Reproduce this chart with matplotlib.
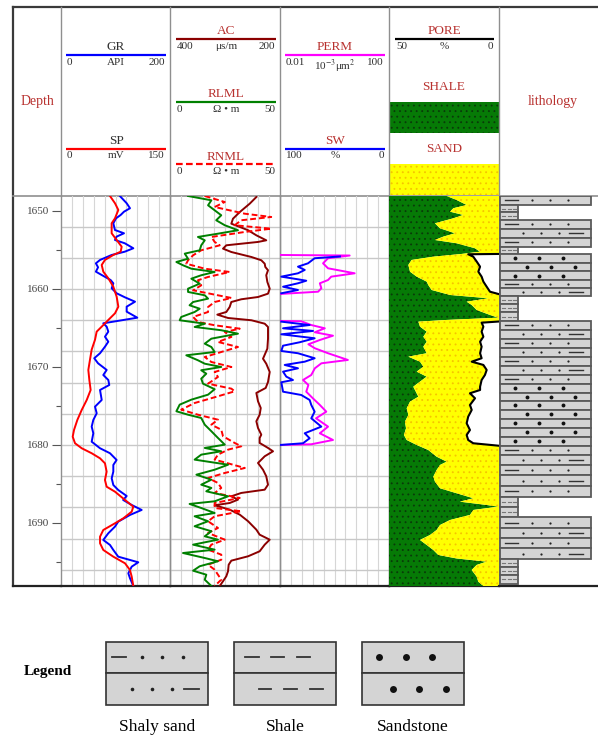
import numpy as np
import matplotlib.pyplot as plt
from matplotlib.patches import Rectangle

plt.rcParams['font.family'] = ['Liberation Serif', 'DejaVu Serif']
plt.rcParams['mathtext.fontset'] = 'stix'
plt.rcParams['hatch.linewidth'] = 0.6

W, H = 598, 740
TOP_DEPTH, BASE_DEPTH = 1648.08, 1698.08
nan = np.nan

# ---- track 1: GR (API) and SP (mV) ----
gr_depth = [1648.08, 1649.01, 1649.65, 1650.09, 1650.51, 1650.94, 1651.58, 1652.44, 1652.86, 1653.29,
            1653.72, 1654.14, 1654.78, 1655.22, 1655.64, 1656.28, 1656.71, 1657.22, 1657.78, 1658.21,
            1658.85, 1659.27, 1659.91, 1660.55, 1661.06, 1661.63, 1662.27, 1662.91, 1663.68, 1664.19,
            1664.40, 1664.83, 1665.47, 1666.12, 1666.76, 1667.40, 1668.24, 1668.88, 1669.53, 1670.38,
            1671.03, 1671.67, 1672.31, 1672.95, 1674.23, 1675.09, 1675.94, 1676.79, 1677.65, 1678.50,
            1679.58, 1680.42, 1681.06, 1681.92, 1682.56, 1683.42, 1684.27, 1685.13, 1685.77, 1686.54,
            1687.05, 1687.69, 1688.33, 1688.97, 1689.83, 1690.47, 1691.32, 1692.18, 1692.82, 1693.46,
            1694.32, 1695.04, 1695.60, 1696.45, 1697.09, 1698.08]
gr_api = [108, 120.5, 126.6, 115.6, 109.5, 101, 96, 99, 115.6, 102,
          99, 117, 132.7, 117, 93, 71.6, 64, 68, 64, 74.7,
          91, 96, 93, 102, 117, 135.8, 120.5, 120.5, 140, 96,
          77.6, 83.8, 86.8, 80.7, 86.8, 80.7, 71.6, 61, 68, 83.8,
          77.6, 86.8, 88.6, 71.6, 74.7, 62.4, 65.5, 59.3, 56.3, 59.3,
          56.3, 71.6, 89.9, 102, 96, 96, 93, 96, 105, 120.5,
          114, 129.7, 148, 126.6, 105, 99, 86.8, 77.6, 89.9, 96,
          105, 141.8, 129.7, 123.5, 126.6, 132.7]

sp_depth = [1648.08, 1649.01, 1649.87, 1650.94, 1651.58, 1652.86, 1653.72, 1654.58, 1655.22, 1655.64,
            1656.28, 1656.92, 1657.78, 1658.63, 1659.71, 1660.99, 1662.27, 1663.12, 1663.76, 1664.83,
            1665.47, 1666.51, 1667.78, 1669.06, 1670.38, 1671.67, 1672.95, 1674.23, 1675.51, 1676.79,
            1678.08, 1678.94, 1679.78, 1680.42, 1681.06, 1681.71, 1682.35, 1683.42, 1684.49, 1685.35,
            1685.99, 1687.05, 1687.91, 1688.55, 1689.40, 1690.04, 1690.90, 1691.76, 1692.60, 1693.46,
            1694.32, 1695.17, 1696.03, 1696.88, 1698.08]
sp_mv = [67.4, 74.3, 78.9, 74.3, 69.7, 69.7, 76.6, 83.5, 82.1, 72,
         60.5, 56, 58.2, 65.1, 72, 76.6, 78.9, 74.3, 67.4, 56,
         49.1, 46.8, 42.2, 39.9, 37.6, 39, 40.8, 35.4, 28.5, 22.5,
         17.9, 16.1, 19.3, 28.5, 42.2, 53.7, 60.5, 62.8, 60.5, 62.8,
         74.3, 88.1, 99.5, 97.3, 85.8, 74.3, 58.2, 53.7, 53.7, 58.2,
         72, 88.1, 94.9, 97.3, 99.5]

# ---- track 2: AC (us/m), RLML and RNML (ohm.m) ----
ac_depth = [1648.21, 1649.06, 1650.13, 1650.99, 1651.63, 1652.05, 1652.47, 1653.12, 1653.76, 1653.97,
            1654.40, 1654.83, 1655.26, 1655.90, 1656.32, 1656.76, 1657.18, 1657.60, 1658.24, 1659.10,
            1659.96, 1660.60, 1661.03, 1661.32, 1661.67, 1662.31, 1662.95, 1663.29, 1663.72, 1664.01,
            1664.45, 1664.87, 1666.37, 1667.65, 1668.94, 1669.58, 1670.64, 1671.92, 1672.69, 1673.33,
            1674.40, 1675.26, 1676.12, 1676.96, 1677.82, 1678.68, 1679.10, 1679.74, 1680.38, 1680.81,
            1681.45, 1682.31, 1683.17, 1684.01, 1685.09, 1685.73, 1686.15, 1686.58, 1687.01, 1687.44,
            1687.73, 1688.29, 1688.94, 1689.78, 1690.86, 1691.50, 1692.14, 1692.78, 1693.63, 1694.27,
            1694.83, 1695.35, 1696.19, 1696.83, 1697.47, 1698.08]
ac_us = [243, 255, 273, 285.5, 288.5, 273, 258, 243, 225, 240,
         297.6, 303.6, 288.5, 252, 234, 227.8, 226.7, 221.8, 225, 223,
         218.7, 221.8, 240, 270.4, 288.5, 291.5, 297.6, 314, 294.5, 252,
         227.8, 221.8, 221.8, 223, 230.9, 225, 218.7, 221.8, 226, 243,
         240, 235, 237, 243, 240, 234, 237, 237, 221.8, 212.7,
         227.8, 240, 230.9, 225, 221.8, 227.8, 270.4, 288.5, 276.4, 291.5,
         318.8, 291.5, 273, 258, 243, 237, 218.7, 227.8, 237, 258,
         288.5, 293.3, 294.5, 297.6, 303.6, 309.6]

rlml_depth = [1648.08, 1648.63, 1649.27, 1649.91, 1650.55, 1651.19, 1651.83, 1652.47, 1652.91, 1653.33,
              1653.76, 1654.40, 1655.04, 1655.47, 1656.12, 1656.54, 1656.96, 1657.40, 1657.82, 1658.24,
              1658.68, 1659.32, 1659.96, 1660.38, 1660.81, 1661.24, 1661.67, 1662.09, 1662.53, 1662.95,
              1663.59, 1664.01, 1664.45, 1664.87, 1665.29, 1665.73, 1666.37, 1667.01, 1667.44, 1668.08,
              1668.50, 1669.14, 1669.58, 1670.00, 1670.42, 1670.86, 1671.50, 1672.14, 1672.85, 1673.55,
              1674.19, 1674.83, 1675.68, 1676.12, 1676.54, 1677.40, 1678.24, 1679.10, 1679.96, 1680.38,
              1680.81, 1681.24, 1681.88, 1682.53, 1683.17, 1683.81, 1684.45, 1685.09, 1685.51, 1685.94,
              1686.58, 1687.22, 1687.56, 1688.08, 1688.72, 1689.14, 1689.78, 1690.42, 1691.06, 1691.71,
              1692.14, 1692.78, 1693.42, 1693.85, 1694.49, 1694.91, 1695.55, 1696.12, 1696.63, 1697.27,
              1698.08]
rlml_ohm = [8.2, 18.8, 17.3, 20.3, 23.3, 21, 24.9, 30.9, 21.8, 12.7,
            15.8, 14.2, 13.5, 6.7, 8.2, 2.9, 5.9, 9.7, 20.3, 14.2,
            9.7, 13.5, 8.2, 8.2, 15.8, 17.3, 10.5, 8.9, 13.5, 11.2,
            5.1, 4.4, 15.8, 11.2, 23.3, 30.9, 18.8, 15.8, 18.8, 20.3,
            7.4, 12.7, 15.8, 23.3, 14.2, 16.5, 14.2, 15, 20.3, 17.3,
            9.7, 4.4, 2.9, 8.2, 14.2, 15.8, 18.8, 21.8, 24.9, 15.8,
            23.3, 14.2, 11.2, 26.4, 20.3, 12, 18.8, 14.2, 18.8, 16.5,
            26.4, 20.3, 8.9, 14.2, 20.3, 11.2, 17.3, 11.2, 18.8, 15.8,
            21.8, 10.5, 20.3, 5.9, 15.8, 21.8, 13.5, 10.5, 16.5, 15.8,
            18.8]

rnml_depth = [1648.08, 1648.85, 1649.49, 1650.35, 1650.77, 1651.19, 1651.83, 1652.27, 1652.69, 1653.33,
              1653.97, 1654.40, 1655.04, 1655.68, 1656.32, 1656.76, 1657.40, 1657.82, 1658.46, 1658.88,
              1659.53, 1660.17, 1660.81, 1661.15, 1661.67, 1662.31, 1662.95, 1663.59, 1664.23, 1664.65,
              1665.09, 1665.51, 1666.15, 1666.79, 1667.44, 1668.08, 1668.72, 1669.36, 1670.00, 1670.64,
              1671.28, 1672.14, 1672.78, 1673.12, 1673.76, 1674.62, 1675.47, 1676.12, 1676.76, 1677.40,
              1678.04, 1678.88, 1679.74, 1680.17, 1680.60, 1681.24, 1681.88, 1682.95, 1683.59, 1684.23,
              1684.87, 1685.51, 1686.15, 1686.79, 1687.44, 1688.08, 1688.50, 1689.14, 1689.78, 1690.64,
              1691.28, 1692.14, 1692.78, 1693.42, 1694.06, 1694.71, 1695.35, 1695.99, 1696.63, 1697.27,
              1698.08]
rnml_ohm = [15.8, 24.9, 20.3, 34, 46, 32.4, 29.4, 46, 34, 18.8,
            20.3, 22.6, 14.2, 10.5, 8.2, 7.4, 15.8, 27.1, 17.3, 12.7,
            14.2, 10.5, 21.8, 27.9, 20.3, 17.3, 17.3, 10.5, 12.7, 20.3,
            31.7, 24.9, 27.9, 21.8, 30.9, 23.3, 15.8, 18.8, 27.9, 20.3,
            21.8, 17.3, 27.9, 29.4, 21.8, 11.2, 5.1, 12.7, 21.8, 18.8,
            23.3, 24.1, 29.4, 32.4, 26.4, 21.8, 20.3, 34, 24.9, 17.3,
            21.8, 23.3, 20.3, 31.7, 20.3, 20.3, 32.4, 20.3, 17.3, 21.8,
            17.3, 24.9, 18.8, 17.3, 23.3, 23.3, 17.3, 20.3, 21.8, 23.3,
            20.3]

# ---- track 3: PERM (10^-3 um^2) and SW (%) ----
perm_depth = [1655.64, 1655.71, 1656.06, 1656.71, 1657.35, 1657.99, 1658.42, 1658.85, 1659.27, 1659.91,
              1660.35, 1660.64, nan,
              1664.10, 1664.14, 1664.62, 1665.04, 1665.55, 1665.99, 1666.54, 1667.09, 1667.60, 1668.24,
              1669.10, 1669.53, 1670.17, 1671.03, 1671.67, 1672.31, 1673.17, 1674.01, 1674.87, 1675.73,
              1676.58, 1677.65, 1678.50, 1679.36, 1679.91, 1680.00]
perm_md = [0.01, 3.6, 0.58, 0.38, 0.58, 5.5, 0.76, 0.58, 0.29, 0.33,
           0.25, 0.01, nan,
           0.01, 0.06, 0.14, 0.44, 0.19, 0.88, 0.29, 0.11, 0.19, 0.58,
           3.1, 0.33, 0.19, 0.14, 0.07, 0.11, 0.092, 0.16, 0.29, 0.5,
           0.21, 0.58, 0.29, 0.88, 0.14, 0.01]

sw_depth = [1655.83, 1656.06, 1656.71, 1657.14, 1657.56, 1657.99, 1658.42, 1658.76, 1658.94, 1659.27,
            1659.71, 1660.13, 1660.55, nan,
            1664.19, 1664.62, 1665.04, 1665.38, 1665.81, 1666.32, 1666.83, 1667.27, 1667.95, 1668.24,
            1668.88, 1669.32, 1669.74, 1670.17, 1670.60, 1671.24, 1671.67, 1671.96, 1673.17, 1673.59,
            1674.23, 1674.87, 1675.73, 1676.58, 1677.65, 1678.50, 1679.14, 1679.78, 1680.00]
sw_pct = [45, 68.2, 74.3, 83.5, 77.3, 83.5, 98.8, 83.5, 75.9, 83.5,
          97.2, 83.5, 98.8, nan,
          98.8, 72.8, 97.2, 69.7, 98.8, 68.2, 81.9, 97.2, 98.8, 83.5,
          68.2, 77.3, 95.7, 83.5, 97.2, 94.2, 88.1, 98.8, 97.2, 80.5,
          72.8, 71.3, 68.2, 71.3, 62.1, 77.3, 72.8, 78.9, 100]

# ---- track 4: shale volume (%) and PORE (%) ----
vsh_depth = [1648.08, 1648.59, 1649.23, 1649.65, 1650.09, 1650.51, 1650.94, 1651.58, 1652.22, 1652.86,
             1653.29, 1653.72, 1654.14, 1654.78, 1655.22, 1655.51, 1655.86, 1656.28, 1656.92, 1657.78,
             1658.42, 1659.06, 1659.49, 1660.13, 1660.77, 1661.19, 1661.63, 1662.05, 1662.69, 1663.33,
             1663.68, 1663.97, 1664.19, 1664.83, 1665.47, 1666.12, 1666.76, 1667.40, 1668.24, 1668.68,
             1669.32, 1669.96, 1670.60, 1671.24, 1671.88, 1672.53, 1672.95, 1673.81, 1674.45, 1675.29,
             1676.15, 1677.01, 1677.86, 1678.72, 1679.36, 1680.00, 1680.64, 1681.50, 1682.14, 1682.56,
             1683.21, 1684.06, 1684.71, 1685.55, 1686.19, 1686.83, 1687.27, 1687.69, 1687.91, 1688.33,
             1688.97, 1689.62, 1690.26, 1690.90, 1691.54, 1692.18, 1692.82, 1693.46, 1694.10, 1694.55,
             1694.96, 1695.38, 1696.03, 1696.88, 1697.53, 1698.08]
vsh_pct = [52.5, 61.5, 70.6, 58.5, 55.5, 67.5, 58.5, 41.8, 46.4, 60,
           49.4, 41.8, 61.5, 78.2, 82.7, 66, 40.3, 20.6, 17.6, 19.1,
           25.2, 34.3, 35.7, 38.8, 55.5, 90.3, 70.6, 75.2, 79.7, 91.8,
           99.4, 52.5, 26.7, 28.2, 34.3, 31.2, 34.3, 31.2, 34.3, 17.6,
           28.2, 31.2, 25.2, 34.3, 28.2, 22.1, 23.6, 26.7, 19.1, 16.1,
           17.6, 14.5, 15.5, 13.6, 16.1, 25.2, 35.7, 43.3, 52.5, 46.4,
           43.3, 40.3, 41.8, 46.4, 61.5, 76.7, 64.5, 88.8, 99.4, 76.7,
           73.6, 55.5, 46.4, 43.3, 37.3, 28.2, 34.3, 40.3, 44.8, 61.5,
           88.8, 79.7, 75.2, 79.7, 81.2, 85.7]

pore_depth = [1655.51, 1655.55, 1655.86, 1656.50, 1657.14, 1657.78, 1658.42, 1659.06, 1659.71, 1660.35,
              1660.64, nan,
              1664.17, 1664.32, 1664.83, 1665.47, 1666.12, 1666.76, 1667.40, 1668.24, 1668.88, 1669.32,
              1669.74, 1670.38, 1671.03, 1671.67, 1672.53, 1672.95, 1673.37, 1674.01, 1674.87, 1675.51,
              1676.37, 1677.22, 1678.08, 1678.72, 1679.36, 1679.78, 1680.09]
pore_pct = [0, 14, 11.7, 10.1, 8.6, 9.4, 7.9, 7.1, 5.6, 4.1,
            0.3, nan,
            0, 7.9, 7.1, 7.9, 7.1, 8.6, 7.9, 8.6, 7.9, 12.4,
            7.1, 5.6, 6.4, 7.9, 8.6, 8.6, 13.2, 10.9, 13.2, 12.4,
            14, 14.7, 13.2, 14.7, 14, 11.7, 0.3]

# ---- lithology column ----
litho_bounds = [1648.08, 1649.23, 1650.17, 1651.15, 1652.31, 1653.46, 1654.62, 1655.51, 1656.67, 1657.73,
                1658.85, 1659.87, 1660.90, 1661.96, 1662.99, 1664.10, 1665.26, 1666.41, 1667.56, 1668.72,
                1669.87, 1671.03, 1672.18, 1673.33, 1674.36, 1675.51, 1676.63, 1677.78, 1678.94, 1680.09,
                1681.28, 1682.60, 1683.85, 1685.26, 1686.63, 1687.91, 1689.29, 1690.60, 1691.96, 1693.24,
                1694.62, 1695.64, 1696.67, 1697.76]
litho_kind = (['shaly', 'shale', 'shale', 'shaly', 'shaly', 'shaly', 'shale',
               'sandstone', 'sandstone', 'sandstone', 'shaly', 'shaly', 'shale', 'shale', 'shale']
              + ['shaly'] * 7 + ['sandstone'] * 7 + ['shaly'] * 5 + ['shale'] * 2
              + ['shaly'] * 4 + ['shale'] * 3)

depth_major = [1650, 1660, 1670, 1680, 1690]
depth_minor = [1655, 1665, 1675, 1685, 1695]
grid_depths = list(range(1652, 1697, 4))

legend_kinds = ['shaly', 'shale', 'sandstone']
legend_names = ['Shaly sand', 'Shale', 'Sandstone']

LABEL_RED = '#b8312f'
INK = '#303030'
SEP = '#8f8f8f'
SHALE_GREEN = '#067a06'
SHALE_DOTS = '#0a3a0a'
SAND_YELLOW = '#ffff00'
SAND_DOTS = '#f5c400'
ROCK_GRAY = '#d4d4d4'


def frac(x0, y0, x1, y1):
    return [x0 / W, 1 - y1 / H, (x1 - x0) / W, (y1 - y0) / H]


def dotted(dot_color, make):
    # hatch colour is taken from rcParams when the artist is built
    with plt.rc_context({'hatch.color': dot_color}):
        return make()


def draw_pattern(ax, kind, row, x0, x1, yc, small=1.6, big=3.0, dash_lw=1.0, narrow=False):
    w = x1 - x0
    if kind == 'shaly':
        if row == 0:
            ax.plot([x0 + 0.06 * w, x0 + 0.2 * w], [yc, yc], color='#333333', lw=dash_lw)
            dots = [0.35, 0.55, 0.75]
        else:
            ax.plot([x0 + 0.76 * w, x0 + 0.91 * w], [yc, yc], color='#333333', lw=dash_lw)
            dots = [0.25, 0.45, 0.65]
        ax.plot([x0 + f * w for f in dots], [yc] * 3, 'o', ms=small, color='#222222', mew=0)
    elif kind == 'sandstone':
        dots = [0.17, 0.43, 0.69] if row == 0 else [0.3, 0.56, 0.82]
        ax.plot([x0 + f * w for f in dots], [yc] * 3, 'o', ms=big, color='#111111', mew=0)
    else:
        if narrow:
            segs = [(0.12, 0.3), (0.42, 0.6), (0.72, 0.9)]
            col, lw = '#777777', 0.8
        elif row == 0:
            segs = [(0.11, 0.245), (0.366, 0.49), (0.62, 0.745)]
            col, lw = '#333333', dash_lw
        else:
            segs = [(0.245, 0.366), (0.49, 0.615), (0.745, 0.87)]
            col, lw = '#333333', dash_lw
        for a, b in segs:
            ax.plot([x0 + a * w, x0 + b * w], [yc, yc], color=col, lw=lw)


fig = plt.figure(figsize=(W / 100, H / 100), dpi=100)

# drawing canvas in pixel units for the header, frame and legend
cv = fig.add_axes([0, 0, 1, 1], zorder=0)
cv.set_xlim(0, W)
cv.set_ylim(H, 0)
cv.axis('off')

cv.plot([13, W], [7, 7], color='#3a3a3a', lw=1.6)
cv.plot([13, 13], [7, 586], color='#3a3a3a', lw=1.6)
cv.plot([13, 61], [586, 586], color='#222222', lw=1.6)
cv.plot([13, W], [195.5, 195.5], color=SEP, lw=1.2)
for xb in [61, 170, 280, 389, 499]:
    cv.plot([xb, xb], [7, 195.5], color=SEP, lw=1.0)

cv.text(37, 102, 'Depth', ha='center', va='center', fontsize=10, color=LABEL_RED)
cv.text(553, 102, 'lithology', ha='center', va='center', fontsize=10, color=LABEL_RED)


def curve_header(x0, x1, y, color, name, lo, unit, hi, name_color=LABEL_RED, ls='-'):
    cv.plot([x0, x1], [y, y], color=color, lw=1.6, ls=ls, solid_capstyle='butt')
    xc = (x0 + x1) / 2
    cv.text(xc, y - 1.5, name, ha='center', va='bottom', fontsize=9.5, color=name_color)
    cv.text(x0 + 1, y + 3, lo, ha='left', va='top', fontsize=8, color=INK)
    cv.text(xc, y + 3, unit, ha='center', va='top', fontsize=8, color=INK)
    cv.text(x1 - 1, y + 3, hi, ha='right', va='top', fontsize=8, color=INK)


curve_header(66, 166, 55, '#0000ff', 'GR', '0', 'API', '200', name_color=INK)
curve_header(66, 166, 148.5, '#ff0000', 'SP', '0', 'mV', '150', name_color=INK)
curve_header(176, 276, 39, '#8b0000', 'AC', '400', 'μs/m', '200')
curve_header(176, 276, 101.5, '#008000', 'RLML', '0', 'Ω • m', '50')
curve_header(176, 276, 164, '#ff0000', 'RNML', '0', 'Ω • m', '50', ls=(0, (3, 1.5)))
curve_header(285, 385, 55, '#ff00ff', 'PERM', '0.01', '10$^{-3}$μm$^{2}$', '100')
curve_header(285, 385, 148.5, '#0000ff', 'SW', '100', '%', '0')
curve_header(395, 494, 39, 'black', 'PORE', '50', '%', '0')

cv.text(444, 87, 'SHALE', ha='center', va='center', fontsize=9.5, color=LABEL_RED)
cv.add_patch(dotted(SHALE_DOTS, lambda: Rectangle((389.5, 102), 109.5, 31, facecolor=SHALE_GREEN,
                                                  hatch='...', lw=0)))
cv.text(444, 149, 'SAND', ha='center', va='center', fontsize=9.5, color=LABEL_RED)
cv.add_patch(dotted(SAND_DOTS, lambda: Rectangle((389.5, 164), 109.5, 31, facecolor=SAND_YELLOW,
                                                 hatch='...', lw=0)))

# legend under the log
cv.text(48, 671, 'Legend', ha='center', va='center', fontsize=11, fontweight='bold', color='black')
for i, (kind, name) in enumerate(zip(legend_kinds, legend_names)):
    bx0 = 106 + i * 128
    bx1 = bx0 + 102
    for row, (ry0, ry1) in enumerate([(642, 672.5), (672.5, 705)]):
        cv.add_patch(Rectangle((bx0, ry0), bx1 - bx0, ry1 - ry0, facecolor=ROCK_GRAY,
                               edgecolor='#333333', lw=1.2))
        draw_pattern(cv, kind, row, bx0, bx1, (ry0 + ry1) / 2, small=2.6, big=5, dash_lw=1.3)
    cv.text((bx0 + bx1) / 2, 727, name, ha='center', va='center', fontsize=12.5, color='black')

# ---- log tracks ----
tracks = [(61, 170), (170, 280), (280, 389), (389, 499)]
axes = []
for i, (x0, x1) in enumerate(tracks):
    ax = fig.add_axes(frac(x0, 196, x1, 586), zorder=1, sharey=axes[0] if axes else None)
    ax.set_facecolor('none')
    ax.set_xlim(0, 10)
    ax.set_ylim(BASE_DEPTH, TOP_DEPTH)
    ax.set_xticks([])
    ax.spines['top'].set_visible(False)
    for s in ['left', 'right']:
        ax.spines[s].set_color(SEP)
        ax.spines[s].set_linewidth(1.0)
    ax.spines['bottom'].set_color('#222222')
    ax.spines['bottom'].set_linewidth(1.6)
    if i < 3:
        for k in range(1, 10):
            ax.axvline(k, color='#d6d6d6', lw=0.8, zorder=0)
        for d in grid_depths:
            ax.axhline(d, color='#c8c8c8', lw=1.0, zorder=0)
    if i > 0:
        ax.tick_params(axis='y', which='both', left=False, labelleft=False)
    axes.append(ax)

ax1, ax2, ax3, ax4 = axes
ax1.set_yticks(depth_major)
ax1.set_yticks(depth_minor, minor=True)
ax1.tick_params(axis='y', which='major', length=6.5, width=0.8, color='#555555', pad=2,
                labelsize=8, labelcolor='#444444')
ax1.tick_params(axis='y', which='minor', length=3.5, width=0.8, color='#555555')


def curve_axis(parent, lo, hi, log=False):
    tw = parent.twiny()
    if log:
        tw.set_xscale('log')
    tw.set_xlim(lo, hi)
    tw.xaxis.set_visible(False)
    for s in tw.spines.values():
        s.set_visible(False)
    return tw


ax_gr = curve_axis(ax1, 0, 200)
ax_gr.plot(gr_api, gr_depth, color='#0000ff', lw=1.4)
ax_sp = curve_axis(ax1, 0, 150)
ax_sp.plot(sp_mv, sp_depth, color='#ff0000', lw=1.4)

ax_ac = curve_axis(ax2, 400, 200)
ax_ac.plot(ac_us, ac_depth, color='#8b0000', lw=1.4)
ax_res = curve_axis(ax2, 0, 50)
ax_res.plot(rnml_ohm, rnml_depth, color='#ff0000', lw=1.4, ls=(0, (3, 1.5)))
ax_res.plot(rlml_ohm, rlml_depth, color='#008000', lw=1.4)

ax_perm = curve_axis(ax3, 0.01, 100, log=True)
ax_perm.plot(perm_md, perm_depth, color='#ff00ff', lw=1.4)
ax_sw = curve_axis(ax3, 100, 0)
ax_sw.plot(sw_pct, sw_depth, color='#0000ff', lw=1.4)

ax_vsh = curve_axis(ax4, 0, 100)
dotted(SHALE_DOTS, lambda: ax_vsh.fill_betweenx(vsh_depth, 0, vsh_pct, facecolor=SHALE_GREEN,
                                               hatch='...', lw=0))
dotted(SAND_DOTS, lambda: ax_vsh.fill_betweenx(vsh_depth, vsh_pct, 100, facecolor=SAND_YELLOW,
                                              hatch='...', lw=0))
ax_por = curve_axis(ax4, 50, 0)
ax_por.fill_betweenx(pore_depth, pore_pct, 0, facecolor='white', lw=0)
ax_por.plot(pore_pct, pore_depth, color='black', lw=1.5)

# ---- lithology column ----
axl = fig.add_axes(frac(499, 196, 598, 586), zorder=1, sharey=ax1)
axl.set_facecolor('none')
axl.set_xlim(0, 1)
axl.set_xticks([])
axl.tick_params(axis='y', which='both', left=False, labelleft=False)
for s in ['top', 'left', 'right']:
    axl.spines[s].set_visible(False)
axl.spines['bottom'].set_color('#222222')
axl.spines['bottom'].set_linewidth(1.6)

tops = np.array(litho_bounds[:-1])
bases = np.array(litho_bounds[1:])
widths = [0.182 if k == 'shale' else 0.919 for k in litho_kind]
axl.barh(tops, widths, height=bases - tops, left=0.01, align='edge',
         color=ROCK_GRAY, edgecolor='#5a5a5a', linewidth=1.3)
row = 0
for j, kind in enumerate(litho_kind):
    row = row + 1 if j > 0 and litho_kind[j - 1] == kind else 0
    draw_pattern(axl, kind, row % 2, 0.01, 0.01 + widths[j], (tops[j] + bases[j]) / 2,
                 small=1.6, big=2.8, dash_lw=1.0, narrow=(kind == 'shale'))

fig.savefig('out.png', dpi=100)
